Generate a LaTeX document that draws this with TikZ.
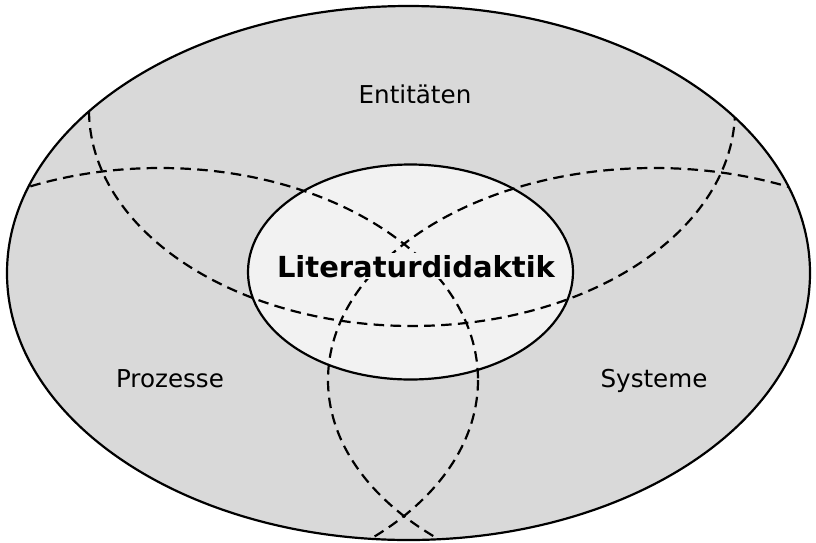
\documentclass[tikz,border=0pt]{standalone}
\usepackage{fontspec}
\setmainfont{DejaVu Sans}
\definecolor{ringfill}{RGB}{217,217,217}
\definecolor{corefill}{RGB}{242,242,242}
\begin{document}
\begin{tikzpicture}[x=0.02cm, y=-0.02cm, line width=1.25pt,
  field/.style={dash pattern=on 6pt off 3.6pt},
  area/.style={font=\fontsize{14}{17}\selectfont, anchor=base}]
% \draw [help lines, step=50] (0,0) grid (816,542) ;
\useasboundingbox (0,0) rectangle (816,542) ;
\fill [ringfill] (408.5,273) circle (401.5 and 267) ;
\fill [corefill] (410.5,272) circle (162.5 and 107.5) ;
\begin{scope}
\clip (408.5,273) circle (401.5 and 267) ;
\draw [field] (160,380) circle (318 and 212) ;
\draw [field] (654,380) circle (326 and 212) ;
\draw [field] (412,110) circle (323 and 216) ;
\end{scope}
\draw (408.5,273) circle (401.5 and 267) ;
\draw (410.5,272) circle (162.5 and 107.5) ;
\draw (415,103) node [area] (ent) {Entitäten} ;
\draw (170,387) node [area] (proz) {Prozesse} ;
\draw (654,387) node [area] (sys) {Systeme} ;
\draw (416,277) node [anchor=base, fill=corefill, inner sep=1pt,
  font=\fontsize{16.5}{19}\selectfont\bfseries] (lit) {Literaturdidaktik} ;
\end{tikzpicture}
\end{document}
